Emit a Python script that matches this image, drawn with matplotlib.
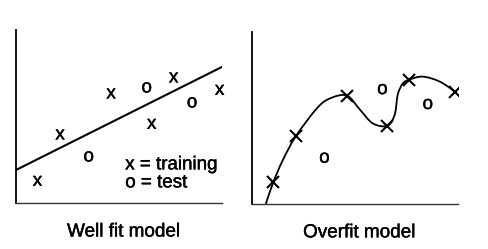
import matplotlib
matplotlib.use("Agg")
import matplotlib.pyplot as plt
import matplotlib.patheffects as pe
from matplotlib.path import Path
from matplotlib.patches import PathPatch

plt.rcParams['font.family'] = ['Liberation Sans', 'DejaVu Sans']

# data (same points in both panels)
train_x = [1.07, 2.2, 4.75, 6.78, 7.88, 10.18]
train_y = [1.08, 3.4, 5.45, 3.93, 6.25, 5.63]
test_x = [3.63, 6.53, 8.8]
test_y = [2.3, 5.75, 5.0]

# straight fit (left panel)
fit_slope = 0.5
fit_intercept = 1.65

# wiggly curve through the training points (right panel)
curve_x = [0.7, 1.07, 1.55, 2.2, 3.25, 3.9, 4.75, 5.4, 6.05, 6.78, 7.15, 7.3, 7.55, 7.88, 8.55, 9.4, 10.18]
curve_y = [0.0, 1.08, 2.2, 3.4, 4.8, 5.3, 5.45, 4.75, 4.05, 3.93, 4.5, 5.5, 6.05, 6.25, 6.4, 6.15, 5.63]

titles = ["Well fit model", "Overfit model"]

# scanned look: letters slightly heavier than regular
heavy = [pe.withStroke(linewidth=0.3, foreground='black')]


def smooth_path(xs, ys):
    # catmull-rom through the points, as cubic bezier segments
    pts = list(zip(xs, ys))
    verts = [pts[0]]
    codes = [Path.MOVETO]
    n = len(pts)
    for i in range(n - 1):
        p0 = pts[max(i - 1, 0)]
        p1 = pts[i]
        p2 = pts[i + 1]
        p3 = pts[min(i + 2, n - 1)]
        c1 = (p1[0] + (p2[0] - p0[0]) / 6, p1[1] + (p2[1] - p0[1]) / 6)
        c2 = (p2[0] - (p3[0] - p1[0]) / 6, p2[1] - (p3[1] - p1[1]) / 6)
        verts += [c1, c2, p2]
        codes += [Path.CURVE4] * 3
    return Path(verts, codes)


fig = plt.figure(figsize=(4.88, 2.49), dpi=100)
ax1 = fig.add_axes([0.033, 0.185, 0.422, 0.695])
ax2 = fig.add_axes([0.516, 0.181, 0.422, 0.691])

for ax, title in zip([ax1, ax2], titles):
    ax.set_xlim(0, 10.3)
    ax.set_ylim(0, 8.65)
    ax.set_xticks([])
    ax.set_yticks([])
    ax.spines['top'].set_visible(False)
    ax.spines['right'].set_visible(False)
    ax.spines['left'].set_linewidth(1.3)
    ax.spines['bottom'].set_linewidth(1.0)
    ax.spines['bottom'].set_color('#333333')
    ax.text(0.52, -0.168, title, transform=ax.transAxes, ha='center', va='center',
            fontsize=13.6, path_effects=heavy)

# left: points as letters plus straight line
for x, y in zip(train_x, train_y):
    ax1.text(x, y, "x", ha='center', va='center', fontsize=13.5, path_effects=heavy)
for x, y in zip(test_x, test_y):
    ax1.text(x, y, "o", ha='center', va='center', fontsize=13.5, path_effects=heavy)
ax1.plot([0, 10.3], [fit_intercept, fit_intercept + fit_slope * 10.3], color='black', lw=1.5)
ax1.text(0.53, 0.22, "x = training", transform=ax1.transAxes, ha='left', va='center',
         fontsize=13.5, path_effects=heavy)
ax1.text(0.53, 0.116, "o = test", transform=ax1.transAxes, ha='left', va='center',
         fontsize=13.5, path_effects=heavy)

# right: curve through every training point
ax2.add_patch(PathPatch(smooth_path(curve_x, curve_y), fill=False, lw=1.3, color='black'))
ax2.plot(train_x, train_y, linestyle='none', marker='x', ms=8, mew=1.5, color='black')
for x, y in zip(test_x, test_y):
    ax2.text(x, y, "o", ha='center', va='center', fontsize=13.5, path_effects=heavy)

fig.savefig("out.png", dpi=100)
